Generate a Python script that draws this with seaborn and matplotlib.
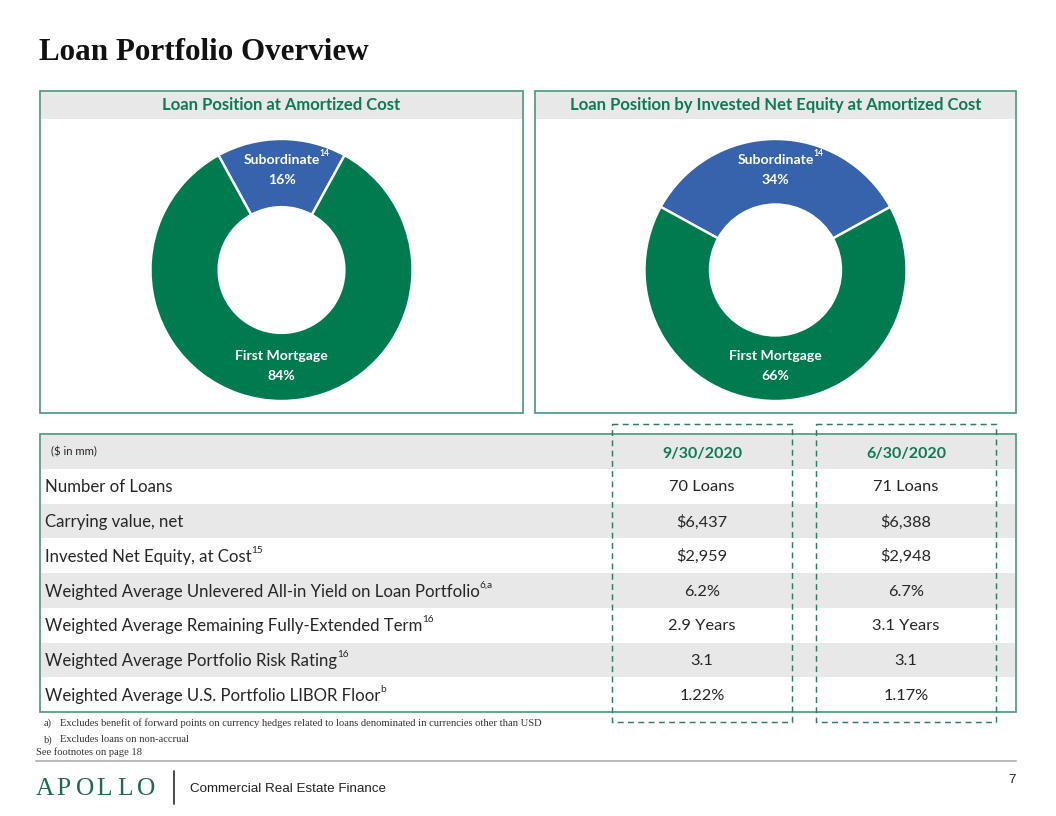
import numpy as np
import pandas as pd
import matplotlib
matplotlib.use("Agg")
import matplotlib.pyplot as plt
import seaborn as sns

# ----------------------------
# Data
# ----------------------------
pie_titles = ["Loan Position at Amortized Cost",
              "Loan Position by Invested Net Equity at Amortized Cost"]
pie_labels = ["Subordinate", "First Mortgage"]
pie_left = [16, 84]
pie_right = [34, 66]

col_headers = ["9/30/2020", "6/30/2020"]
row_labels = ["Number of Loans",
              "Carrying value, net",
              "Invested Net Equity, at Cost",
              "Weighted Average Unlevered All-in Yield on Loan Portfolio",
              "Weighted Average Remaining Fully-Extended Term",
              "Weighted Average Portfolio Risk Rating",
              "Weighted Average U.S. Portfolio LIBOR Floor"]
row_notes = ["", "", "15", "6,a", "16", "16", "b"]
q3_values = ["70 Loans", "$6,437", "$2,959", "6.2%", "2.9 Years", "3.1", "1.22%"]
q2_values = ["71 Loans", "$6,388", "$2,948", "6.7%", "3.1 Years", "3.1", "1.17%"]

footnotes = ["Excludes benefit of forward points on currency hedges related to loans denominated in currencies other than USD",
             "Excludes loans on non-accrual"]

# ----------------------------
# Style
# ----------------------------
sns.set_theme(style="white")
plt.rcParams["font.family"] = ["Lato", "DejaVu Sans"]

GREEN = "#007A4F"
BLUE = "#3663AB"
HEAD_GREEN = "#0E7A52"
BORDER = "#4E9A7E"
BAND = "#E8E8E8"
TEXT = "#262626"
palette = sns.color_palette([BLUE, GREEN])

W, H = 1056, 816
fig = plt.figure(figsize=(W / 96, H / 96), dpi=96)
ax = fig.add_axes([0, 0, 1, 1])
ax.set_xlim(0, W)
ax.set_ylim(H, 0)
ax.axis("off")

# title
ax.text(39, 52, "Loan Portfolio Overview", fontsize=23.3, fontweight="bold",
        family=["Liberation Serif"], color="#111111", va="center", ha="left")

# ----------------------------
# Donut panels
# ----------------------------
panels = [(40, 523, pie_left), (535, 1016, pie_right)]
for (x0, x1, vals), title in zip(panels, pie_titles):
    ax.add_patch(plt.Rectangle((x0, 91), x1 - x0, 322, fill=False, ec=BORDER, lw=1.3))
    ax.add_patch(plt.Rectangle((x0 + 1, 92), x1 - x0 - 2, 27, fc=BAND, ec="none"))
    ax.text((x0 + x1) / 2, 105, title, fontsize=12.5, fontweight="bold",
            color=HEAD_GREEN, ha="center", va="center")

    cx = (x0 + x1) / 2
    cy = 270
    r = 131
    pax = fig.add_axes([(cx - r) / W, 1 - (cy + r) / H, 2 * r / W, 2 * r / H])
    sub_share = vals[0] / 100 * 360
    pax.pie(vals, colors=palette, startangle=90 - sub_share / 2, counterclock=True,
            wedgeprops=dict(width=0.5 if vals[0] > 20 else 0.52, edgecolor="white", linewidth=1.8))
    pax.set_aspect("equal")
    pax.set_xlim(-1, 1)
    pax.set_ylim(-1, 1)

    t = pax.text(0, 0.84, pie_labels[0], color="white", fontsize=10.5, fontweight="bold",
                 ha="center", va="center")
    pax.annotate("14", xy=(1.0, 1.05), xycoords=t, fontsize=6.5, fontweight="bold",
                 color="white", ha="left", va="center")
    pax.text(0, 0.69, f"{vals[0]}%", color="white", fontsize=10.5, fontweight="bold",
             ha="center", va="center")
    pax.text(0, -0.66, pie_labels[1], color="white", fontsize=10.5, fontweight="bold",
             ha="center", va="center")
    pax.text(0, -0.81, f"{vals[1]}%", color="white", fontsize=10.5, fontweight="bold",
             ha="center", va="center")

# ----------------------------
# Table
# ----------------------------
tx0, tx1, ty0, ty1 = 40, 1016, 434, 712
row_h = (ty1 - ty0 - 35) / len(row_labels)
ax.add_patch(plt.Rectangle((tx0 + 1, ty0 + 1), tx1 - tx0 - 2, 34, fc=BAND, ec="none"))
for i in range(len(row_labels)):
    if i % 2 == 1:
        ax.add_patch(plt.Rectangle((tx0 + 1, ty0 + 35 + i * row_h), tx1 - tx0 - 2, row_h,
                                   fc=BAND, ec="none"))
ax.add_patch(plt.Rectangle((tx0, ty0), tx1 - tx0, ty1 - ty0, fill=False, ec=BORDER, lw=1.3))

col_x = [702, 906]
ax.text(51, 452, "($ in mm)", fontsize=8.5, color=TEXT, ha="left", va="center")
for cxp, hd in zip(col_x, col_headers):
    ax.text(cxp, 454, hd, fontsize=12, fontweight="bold", color=HEAD_GREEN,
            ha="center", va="center")

for i, (lab, note, a, b) in enumerate(zip(row_labels, row_notes, q3_values, q2_values)):
    yc = ty0 + 36 + (i + 0.5) * row_h
    t = ax.text(45, yc, lab, fontsize=12.6, color=TEXT, ha="left", va="center")
    if note:
        ax.annotate(note, xy=(1.0, 0.9), xycoords=t, fontsize=7.5, color=TEXT,
                    ha="left", va="center")
    ax.text(col_x[0], yc, a, fontsize=12.3, color=TEXT, ha="center", va="center")
    ax.text(col_x[1], yc, b, fontsize=12.3, color=TEXT, ha="center", va="center")

# dashed highlight boxes
for bx0, bx1 in [(612, 792), (816, 996)]:
    ax.add_patch(plt.Rectangle((bx0, 424), bx1 - bx0, 298, fill=False, ec="#2E7D62",
                               lw=1.1, ls=(0, (4, 3))))

# ----------------------------
# Footnotes and footer
# ----------------------------
for k, (tag, note) in enumerate(zip(["a)", "b)"], footnotes)):
    y = 723 + k * 17
    ax.text(44, y, tag, fontsize=7.9, family=["Liberation Serif"], color="#333333",
            ha="left", va="center")
    ax.text(60, y, note, fontsize=7.9, family=["Liberation Serif"], color="#333333",
            ha="left", va="center")
ax.text(36, 752, "See footnotes on page 18", fontsize=7.9, family=["Liberation Serif"],
        color="#333333", ha="left", va="center")
ax.plot([36, 1016], [761, 761], color="#BBBBBB", lw=1.5)

for j, ch in enumerate("APOLLO"):
    ax.text(36 + j * 20.2, 789, ch, fontsize=19, family=["Liberation Serif"],
            color="#1F6B4B", ha="left", va="center")
ax.plot([174, 174], [771, 804], color="#333333", lw=1.3)
ax.text(190, 789, "Commercial Real Estate Finance", fontsize=10,
        family=["Liberation Sans"], color="#222222", ha="left", va="center")
ax.text(1016, 780, "7", fontsize=10, family=["Liberation Sans"], color="#222222",
        ha="right", va="center")

fig.savefig("out.png", dpi=96)
